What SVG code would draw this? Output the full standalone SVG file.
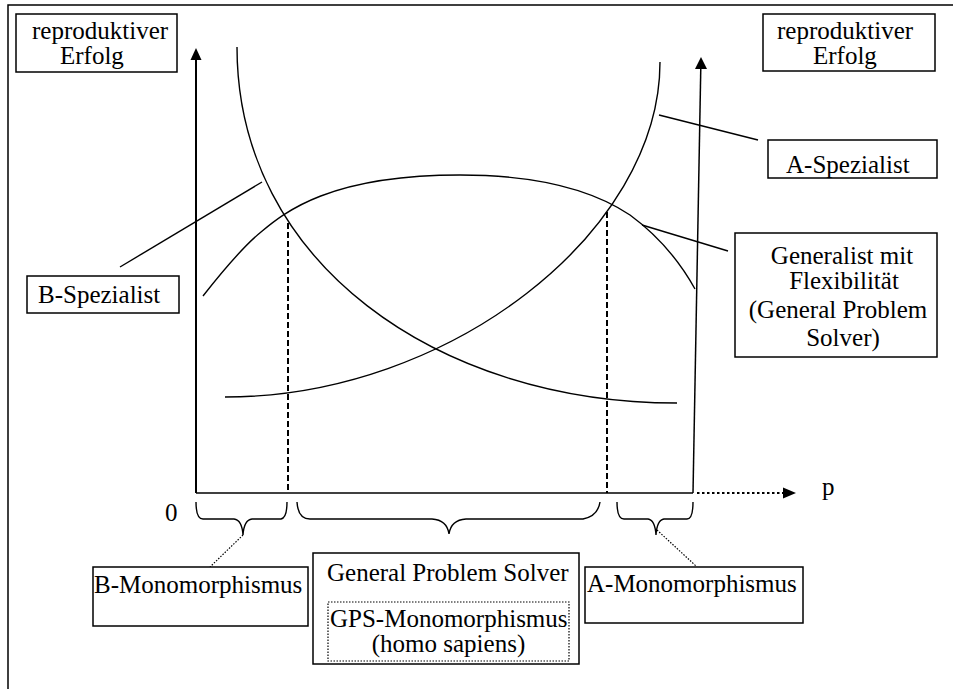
<svg xmlns="http://www.w3.org/2000/svg" width="953" height="689" viewBox="0 0 953 689">
<style>
  text { font-family: "Liberation Serif", "Times New Roman", serif; font-size: 25px; fill: #000; }
  .box { fill: #fff; stroke: #000; stroke-width: 1.5; }
  .curve { fill: none; stroke: #000; stroke-width: 1.4; }
  .lead { fill: none; stroke: #000; stroke-width: 1.4; }
  .dash { fill: none; stroke: #000; stroke-width: 2; stroke-dasharray: 6 3; }
  .dot { fill: none; stroke: #000; stroke-width: 1.2; stroke-dasharray: 1.5 1.5; }
  .brace { fill: none; stroke: #000; stroke-width: 1.4; }
  .mid { text-anchor: middle; }
</style>
<rect x="0" y="0" width="953" height="689" fill="#fff"/>
<rect id="frame" x="8" y="5" width="960" height="700" fill="none" stroke="#000" stroke-width="1.5"/>

<g id="axes">
  <line x1="196" y1="493" x2="196" y2="58" stroke="#000" stroke-width="2"/>
  <polygon points="196,48 190.5,60 201.5,60" fill="#000"/>
  <line x1="693" y1="493" x2="700.8" y2="67" stroke="#000" stroke-width="1.5"/>
  <polygon points="701,57 695,69 707,69" fill="#000"/>
  <line x1="196" y1="493" x2="693" y2="493" stroke="#000" stroke-width="1.6"/>
  <line x1="697" y1="493" x2="784" y2="493" stroke="#000" stroke-width="2" stroke-dasharray="2.5 2.5"/>
  <polygon points="796,493 783,487.5 783,498.5" fill="#000"/>
  <text x="165" y="521">0</text>
  <text x="822" y="495">p</text>
</g>

<g id="curves">
  <path id="curve-b" class="curve" d="M237,47 C237,262 437,403 677,403"/>
  <path id="curve-a" class="curve" d="M225,397 C450,397 660,232 660,62"/>
  <path id="curve-gps" class="curve" d="M203,296 C225,268 245,245 261,232 C285,212 330,175 460,175 C550,175 600,195 630,215 C660,237 680,262 695,289"/>
</g>

<g id="connectors">
  <line class="dash" x1="288" y1="223" x2="288" y2="493"/>
  <line class="dash" x1="607" y1="212" x2="607" y2="493"/>
  <line class="lead" x1="659" y1="115" x2="758" y2="140"/>
  <line class="lead" x1="642" y1="225" x2="728" y2="251"/>
  <line class="lead" x1="120" y1="267" x2="262" y2="182"/>
  <path class="brace" d="M196,502 Q196,519 203,519 L234,519 Q242,520 243,535 Q244,520 252,519 L281,519 Q287,518 287,502"/>
  <path class="brace" d="M297,502 Q298,519 310,519 L432,519 Q447,520 449,534 Q451,520 466,519 L583,519 Q598,516 600,502"/>
  <path class="brace" d="M617,502 Q617,519 624,519 L648,519 Q655,520 656,535 Q657,520 664,519 L687,519 Q693,519 693,502"/>
  <line class="dot" x1="243" y1="535" x2="210" y2="567"/>
  <line class="dot" x1="657" y1="530" x2="696" y2="566"/>
</g>

<g id="label-y-left">
  <rect class="box" x="16" y="14" width="161" height="58"/>
  <text x="32" y="39">reproduktiver</text>
  <text x="60" y="64">Erfolg</text>
</g>
<g id="label-y-right">
  <rect class="box" x="763" y="14" width="172" height="57"/>
  <text x="777" y="39">reproduktiver</text>
  <text x="813" y="64">Erfolg</text>
</g>
<g id="a-spezialist">
  <rect class="box" x="768" y="140" width="169" height="38"/>
  <text x="786" y="173">A-Spezialist</text>
</g>
<g id="b-spezialist">
  <rect class="box" x="27" y="276" width="152" height="37"/>
  <text x="38" y="303">B-Spezialist</text>
</g>
<g id="generalist">
  <rect class="box" x="735" y="233" width="202" height="124"/>
  <text class="mid" x="842" y="264">Generalist mit</text>
  <text class="mid" x="844" y="289">Flexibilität</text>
  <text class="mid" x="838" y="318">(General Problem</text>
  <text class="mid" x="843" y="346">Solver)</text>
</g>
<g id="b-monomorphismus">
  <rect class="box" x="93" y="567" width="215" height="59"/>
  <text x="94" y="593">B-Monomorphismus</text>
</g>
<g id="gps">
  <rect class="box" x="313" y="553" width="266" height="111"/>
  <text x="327" y="581">General Problem Solver</text>
  <rect x="328" y="602" width="241" height="59" fill="none" stroke="#000" stroke-width="1.2" stroke-dasharray="1.5 1.5"/>
  <text x="330" y="627">GPS-Monomorphismus</text>
  <text class="mid" x="448.5" y="652">(homo sapiens)</text>
</g>
<g id="a-monomorphismus">
  <rect class="box" x="585" y="567" width="218" height="56"/>
  <text x="587" y="592">A-Monomorphismus</text>
</g>
</svg>
